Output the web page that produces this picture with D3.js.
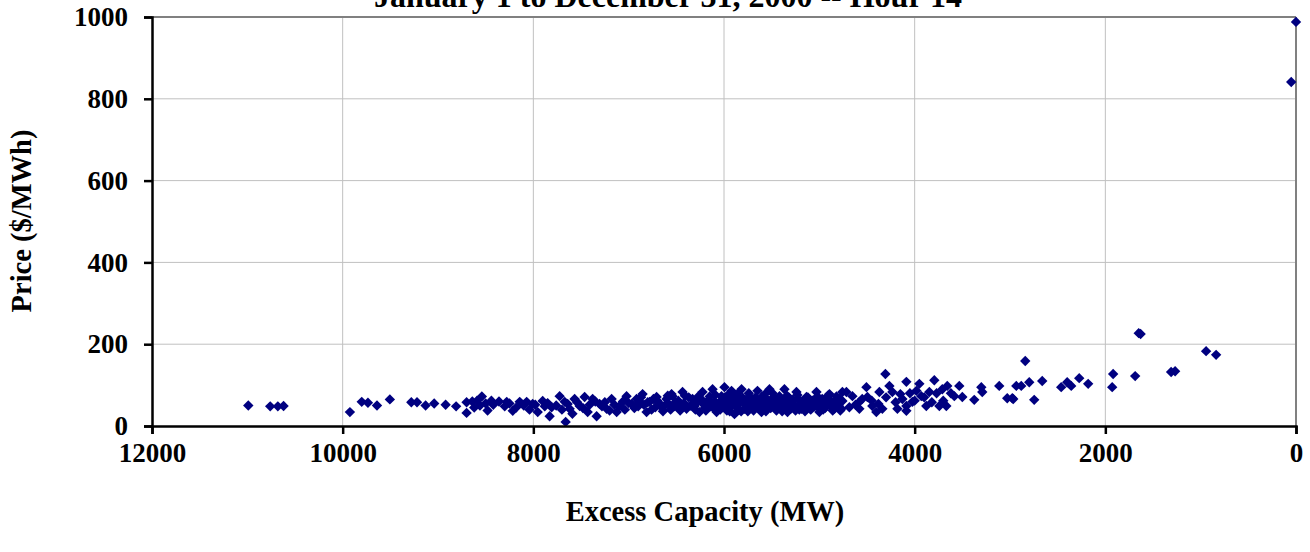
<!DOCTYPE html>
<html>
<head>
<meta charset="utf-8">
<script src="https://cdn.jsdelivr.net/npm/d3@7"></script>
<style>
  html, body { margin: 0; padding: 0; background: #ffffff; }
  svg { display: block; }
  text { font-family: "Liberation Serif", "Times New Roman", serif; font-weight: bold; fill: #000; }
</style>
</head>
<body>
<svg id="chart" width="1310" height="552"></svg>
<script>
const titleText = "January 1 to December 31, 2000 -- Hour 14";
const xTitle = "Excess Capacity (MW)";
const yTitle = "Price ($/MWh)";
const xTicks = [12000, 10000, 8000, 6000, 4000, 2000, 0];
const yTicks = [0, 200, 400, 600, 800, 1000];

// Excess capacity (MW) and price ($/MWh)
const excessMW = [
  10990, 10760, 10680, 10620,
  9924, 9800, 9735, 9640, 9505,
  9280, 9220, 9130, 9040, 8920, 8810, 8700, 8700, 8640, 8590, 8540, 8500, 8480, 8440, 8360,
  8279, 8216, 8143, 8070, 8007, 7954, 7902, 7829, 7808, 7724, 7671, 7661, 7619, 7567, 7514, 7462,
  7430, 7378, 7336, 7305, 7231, 7179, 7126, 7095, 7022, 6969, 6917, 6854, 6812, 6780, 6707, 6655,
  6602, 6550, 6519,
  6540, 6498, 6435, 6393, 6330, 6257, 6225, 6173, 6120, 6078, 6026, 5995, 5963, 5921, 5890, 5858,
  5816, 5785, 5733, 5680, 5649, 5607, 5554, 5523, 5471, 5418, 5366, 5334, 5292, 5240, 5188, 5135,
  5083, 5030, 4999, 4947, 4894, 4842, 4789, 4758,
  8620, 8560, 8420, 8300, 8250, 8180, 8100, 8040, 7980, 7880, 7850, 7760, 7700, 7640, 7590, 7540,
  7480, 7410, 7350, 7280, 7250, 7200, 7150, 7060, 7040, 7000, 6940, 6890, 6840, 6760, 6740, 6680,
  6640, 6580, 6560, 6480, 6460, 6420, 6370, 6350, 6300, 6280, 6240, 6200, 6150, 6140, 6100, 6060,
  6040, 6000, 5980, 5950, 5940, 5910, 5880, 5870, 5840, 5830, 5800, 5770, 5750, 5720, 5700, 5670,
  5640, 5620, 5590, 5570, 5540, 5500, 5480, 5450, 5430, 5400, 5380, 5350, 5320, 5300, 5270, 5250,
  5220, 5200, 5160, 5150, 5110, 5100, 5060, 5040, 5010, 4980, 4960, 4920, 4900, 4870, 4850, 4820,
  4800, 4780,
  6310, 6270, 6210, 6190, 6160, 6110, 6090, 6050, 6020, 5990, 5970, 5960, 5930, 5900, 5860, 5850,
  5820, 5790, 5760, 5740, 5710, 5690, 5660, 5630, 5600, 5580, 5560, 5530, 5510, 5490, 5460, 5440,
  5410, 5390, 5360, 5340, 5310, 5280, 5260, 5230, 5210, 5180, 5140, 5120, 5090, 5070, 5050, 5020,
  4990, 4970, 4940, 4910, 4880, 4860, 4830,
  6900, 6870, 6800, 6720, 6700, 6620, 6590, 6510, 6450, 6410,
  4307, 4087, 3794, 3951, 3532, 3301, 3113, 3375, 3291, 3029, 2976, 2934, 3584, 3500, 3658, 3710,
  3741, 3668, 3878, 4087, 4181, 4087, 4024, 3930, 3846, 4265, 4234, 4370, 4506, 4496, 4580, 4653,
  4716, 4758, 4768, 4444, 4402, 4339, 4580, 4685, 4129, 3982,
  4620, 4550, 4450, 4380, 4300, 4200, 4150, 4050, 4000, 3900, 3820, 3770, 3700, 3620,
  2840, 2966, 2882, 2798, 2746, 2662, 2463, 2400, 2358, 2274, 2180, 1918, 1928, 1687, 1310, 1268,
  1650, 1630, 943, 838,
  0, 50
];
const priceUSD = [
  50, 48, 48, 49,
  34, 59, 57, 50, 65,
  58, 58, 50, 55, 52, 48, 32, 58, 60, 62, 72, 55, 38, 62, 60,
  59, 37, 59, 59, 54, 34, 61, 24, 46, 73, 59, 10, 42, 66, 49, 71,
  34, 66, 24, 54, 42, 66, 34, 49, 73, 54, 66, 78, 34, 59, 71, 46,
  66, 78, 49,
  73, 49, 83, 42, 66, 34, 83, 59, 90, 34, 73, 95, 49, 86, 29, 66,
  90, 42, 73, 59, 86, 34, 66, 90, 46, 73, 90, 34, 61, 83, 42, 71,
  49, 83, 34, 61, 78, 42, 66, 83,
  45, 50, 52, 48, 55, 45, 50, 40, 52, 48, 56, 50, 40, 54, 30, 58,
  44, 52, 60, 48, 58, 38, 52, 60, 40, 56, 44, 60, 52, 40, 66, 56,
  36, 54, 40, 62, 38, 56, 70, 50, 40, 58, 66, 44, 72, 48, 60, 52,
  40, 62, 44, 78, 36, 56, 48, 74, 40, 58, 68, 52, 36, 60, 44, 70,
  50, 62, 40, 78, 48, 58, 70, 38, 56, 44, 62, 50, 70, 42, 54, 38,
  66, 50, 58, 36, 62, 44, 56, 66, 46, 58, 40, 52, 66, 46, 58, 72,
  50, 38,
  48, 72, 52, 38, 64, 44, 76, 58, 48, 70, 38, 60, 46, 68, 52, 80,
  36, 64, 46, 80, 54, 38, 62, 44, 72, 54, 36, 62, 44, 80, 56, 66,
  50, 36, 58, 74, 52, 64, 46, 76, 40, 60, 48, 70, 40, 62, 48, 72,
  52, 66, 44, 74, 56, 38, 62,
  48, 70, 58, 46, 62, 50, 74, 58, 46, 74,
  127, 108, 112, 103, 98, 95, 98, 64, 83, 68, 68, 98, 73, 71, 98, 90,
  49, 49, 49, 49, 42, 37, 59, 73, 83, 98, 83, 83, 95, 71, 59, 73,
  83, 61, 42, 49, 34, 42, 42, 46, 66, 86,
  52, 66, 62, 54, 70, 58, 78, 80, 62, 70, 58, 80, 62, 80,
  159, 66, 98, 107, 64, 110, 95, 107, 98, 117, 103, 127, 95, 122, 132, 134,
  227, 225, 183, 174,
  988, 841
];

const W = 1310, H = 552;
const plot = { left: 152, right: 1296, top: 17, bottom: 426 };

const svg = d3.select("#chart");

const x = d3.scaleLinear().domain([12000, 0]).range([plot.left, plot.right]);
const y = d3.scaleLinear().domain([0, 1000]).range([plot.bottom, plot.top]);

// gridlines
svg.append("g").selectAll("line.vg")
  .data(xTicks.filter(d => d !== 12000 && d !== 0))
  .join("line")
  .attr("x1", d => x(d)).attr("x2", d => x(d))
  .attr("y1", plot.top).attr("y2", plot.bottom)
  .attr("stroke", "#c0c0c0").attr("stroke-width", 1);
svg.append("g").selectAll("line.hg")
  .data(yTicks.filter(d => d !== 0 && d !== 1000))
  .join("line")
  .attr("x1", plot.left).attr("x2", plot.right)
  .attr("y1", d => y(d)).attr("y2", d => y(d))
  .attr("stroke", "#c0c0c0").attr("stroke-width", 1);

// top & right border
svg.append("line").attr("x1", plot.left).attr("x2", plot.right)
  .attr("y1", plot.top).attr("y2", plot.top)
  .attr("stroke", "#808080").attr("stroke-width", 2);
svg.append("line").attr("x1", plot.right).attr("x2", plot.right)
  .attr("y1", plot.top).attr("y2", plot.bottom)
  .attr("stroke", "#808080").attr("stroke-width", 2);

// points
const pts = excessMW.map((m, i) => ({ m, p: priceUSD[i] }));
const sym = d3.symbol().type(d3.symbolSquare).size(54);
svg.append("g").selectAll("path")
  .data(pts)
  .join("path")
  .attr("d", sym)
  .attr("transform", d => `translate(${x(d.m)},${y(d.p)}) rotate(45)`)
  .attr("fill", "#000080");

// axes
const xAxis = d3.axisBottom(x).tickValues(xTicks).tickSize(8).tickPadding(9).tickFormat(d3.format("d"));
const gx = svg.append("g").attr("transform", `translate(0,${plot.bottom})`).call(xAxis);
gx.select(".domain").attr("stroke", "#000").attr("stroke-width", 2.5);
gx.selectAll(".tick line").attr("stroke", "#000").attr("stroke-width", 2.5);
gx.selectAll(".tick text").style("font-size", "27px").style("font-family", "Liberation Serif, serif").style("font-weight", "bold");

const yAxis = d3.axisLeft(y).tickValues(yTicks).tickSize(8).tickPadding(16).tickFormat(d3.format("d"));
const gy = svg.append("g").attr("transform", `translate(${plot.left},0)`).call(yAxis);
gy.select(".domain").attr("stroke", "#000").attr("stroke-width", 2.5);
gy.selectAll(".tick line").attr("stroke", "#000").attr("stroke-width", 2.5);
gy.selectAll(".tick text").style("font-size", "27px").style("font-family", "Liberation Serif, serif").style("font-weight", "bold");

// titles
svg.append("text").attr("x", 668).attr("y", 7).attr("text-anchor", "middle")
  .style("font-size", "32px").text(titleText);
svg.append("text").attr("x", 705).attr("y", 521).attr("text-anchor", "middle")
  .style("font-size", "28.5px").text(xTitle);
svg.append("text").attr("transform", "translate(31,221) rotate(-90)").attr("text-anchor", "middle")
  .style("font-size", "28.5px").text(yTitle);
</script>
</body>
</html>
